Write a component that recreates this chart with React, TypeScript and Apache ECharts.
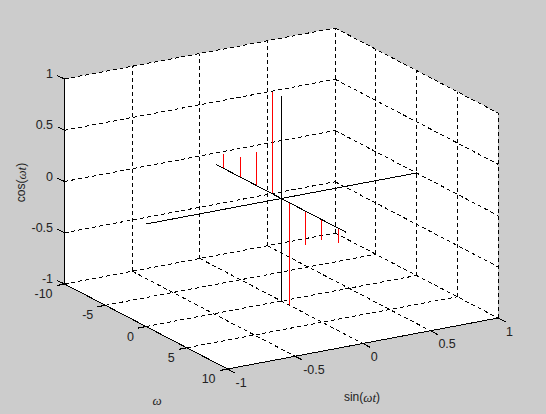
import React, { useEffect, useRef } from "react";
import * as echarts from "echarts";

// Tick values and labels
const omegaTicks = [-10, -5, 0, 5, 10];
const sinTicks = [-1, -0.5, 0, 0.5, 1];
const cosTicks = [-1, -0.5, 0, 0.5, 1];

// Data
const stemOmega = [-7, -5, -3, -1, 1, 3, 5, 7];
const stemCos = [0.14, 0.2, 0.33, 1, -1, -0.33, -0.2, -0.14];
const omegaLine = [-8, 8];
const sinLine = [-1, 1];
const cosLine = [-1, 1];

// Orthographic view of the 3D box: screen units per data unit, centred on (0,0,0)
const CX = 281.3;
const CY = 198.5;
const OX = 8.15;
const OY = 4.25;
const SX = 135.25;
const SY = -25.5;
const ZY = -102.5;
const proj = (w: number, s: number, z: number): number[] => [
  CX + w * OX + s * SX,
  CY + w * OY + s * SY + z * ZY,
];

type Seg = number[];
const W0 = omegaTicks[0];
const W1 = omegaTicks[omegaTicks.length - 1];
const S0 = sinTicks[0];
const S1 = sinTicks[sinTicks.length - 1];
const Z0 = cosTicks[0];
const Z1 = cosTicks[cosTicks.length - 1];

const gridSegs: Seg[] = [
  ...sinTicks.flatMap((s) => [
    [W0, s, Z0, W0, s, Z1],
    [W0, s, Z0, W1, s, Z0],
  ]),
  ...omegaTicks.flatMap((w) => [
    [w, S1, Z0, w, S1, Z1],
    [w, S0, Z0, w, S1, Z0],
  ]),
  ...cosTicks.flatMap((z) => [
    [W0, S0, z, W0, S1, z],
    [W0, S1, z, W1, S1, z],
  ]),
];
const axisSegs: Seg[] = [
  [W0, S0, Z0, W0, S0, Z1],
  [W0, S0, Z0, W1, S0, Z0],
  [W1, S0, Z0, W1, S1, Z0],
];
const blackSegs: Seg[] = [
  [omegaLine[0], 0, 0, omegaLine[1], 0, 0],
  [0, sinLine[0], 0, 0, sinLine[1], 0],
  [0, 0, cosLine[0], 0, 0, cosLine[1]],
];
const redSegs: Seg[] = stemOmega.map((w, i) => [w, 0, 0, w, 0, stemCos[i]]);

// vertical segments land on whole pixels, as in the aliased original
const segSeries = (name: string, segs: Seg[], style: any, bias: number) => ({
  type: "custom",
  name,
  silent: true,
  clip: false,
  coordinateSystem: "cartesian2d",
  data: segs,
  renderItem: (_: any, api: any) => {
    const a = api.coord(proj(api.value(0), api.value(1), api.value(2)));
    const b = api.coord(proj(api.value(3), api.value(4), api.value(5)));
    const vertical = Math.abs(a[0] - b[0]) < 0.01;
    const x1 = vertical ? Math.floor(a[0] - bias) + 0.5 : a[0];
    const x2 = vertical ? x1 : b[0];
    return {
      type: "line",
      shape: { x1, y1: a[1], x2, y2: b[1] },
      style: { fill: null, ...style },
    };
  },
});

const FONT = "'Liberation Sans', Arial, sans-serif";
// tick direction per axis, in screen units
const zTickDir = [-7.2, -3.4];
const wTickDir = [-8, 1.6];
const sTickDir = [7.4, 3.9];

const tickSeries = (name: string, ticks: number[], at: (v: number) => number[], dir: number[]) => ({
  type: "custom",
  name,
  silent: true,
  clip: false,
  coordinateSystem: "cartesian2d",
  data: ticks.map((t) => [t]),
  renderItem: (_: any, api: any) => {
    const p = at(api.value(0));
    const a = api.coord(p);
    const b = api.coord([p[0] + dir[0], p[1] + dir[1]]);
    return {
      type: "line",
      shape: { x1: a[0], y1: a[1], x2: b[0], y2: b[1] },
      style: { stroke: "#000", lineWidth: 1, fill: null },
    };
  },
});

const labelSeries = (
  name: string,
  ticks: number[],
  at: (v: number) => number[],
  dx: number,
  dy: number,
  align: string
) => ({
  type: "custom",
  name,
  silent: true,
  clip: false,
  coordinateSystem: "cartesian2d",
  data: ticks.map((t) => [t]),
  renderItem: (_: any, api: any) => {
    const v = api.value(0);
    const p = api.coord(at(v));
    return {
      type: "text",
      style: {
        text: String(v),
        x: p[0] + dx,
        y: p[1] + dy,
        align,
        verticalAlign: "middle",
        fontFamily: FONT,
        fontSize: 12.5,
        fill: "#222",
      },
    };
  },
});

const zAt = (z: number) => proj(W0, S0, z);
const wAt = (w: number) => proj(w, S0, Z0);
const sAt = (s: number) => proj(W1, s, Z0);

const wallCorners = [
  proj(W0, S0, Z1),
  proj(W0, S1, Z1),
  proj(W1, S1, Z1),
  proj(W1, S1, Z0),
  proj(W1, S0, Z0),
  proj(W0, S0, Z0),
];

const greek = { fontFamily: "'Liberation Serif', serif", fontStyle: "italic", fontSize: 13, fill: "#222" };

export default function App() {
  const ref = useRef<HTMLDivElement>(null);
  useEffect(() => {
    document.body.style.margin = "0";
    const chart = echarts.init(ref.current!, null, { renderer: "svg" });
    chart.setOption({
      animation: false,
      backgroundColor: "#cccccc",
      grid: { left: 0, right: 0, top: 0, bottom: 0 },
      xAxis: { type: "value", min: 0, max: 546, show: false },
      yAxis: { type: "value", min: 0, max: 414, inverse: true, show: false },
      graphic: [
        {
          type: "text",
          x: 362,
          y: 397,
          z: 10,
          style: {
            text: "sin({g|ωt})",
            align: "center",
            verticalAlign: "middle",
            fontFamily: FONT,
            fontSize: 12,
            fill: "#222",
            rich: { g: greek },
          },
        },
        {
          type: "text",
          x: 21,
          y: 182.5,
          rotation: Math.PI / 2,
          z: 10,
          style: {
            text: "cos({g|ωt})",
            align: "center",
            verticalAlign: "middle",
            fontFamily: FONT,
            fontSize: 12,
            fill: "#222",
            rich: { g: greek },
          },
        },
        {
          type: "text",
          x: 157,
          y: 400,
          z: 10,
          style: { text: "ω", align: "center", verticalAlign: "middle", ...greek },
        },
      ],
      series: [
        {
          type: "custom",
          name: "walls",
          silent: true,
          clip: false,
          coordinateSystem: "cartesian2d",
          data: [[0]],
          renderItem: (_: any, api: any) => ({
            type: "polygon",
            shape: { points: wallCorners.map((p) => api.coord(p)) },
            style: { fill: "#ffffff", stroke: null },
          }),
        },
        segSeries("grid", gridSegs, { stroke: "#000", lineWidth: 1, lineDash: [4, 3] }, 0),
        segSeries("axes", axisSegs, { stroke: "#000", lineWidth: 1 }, 0),
        tickSeries("zTicks", cosTicks, zAt, zTickDir),
        tickSeries("wTicks", omegaTicks, wAt, wTickDir),
        tickSeries("sTicks", sinTicks, sAt, sTickDir),
        segSeries("stems", redSegs, { stroke: "#ff0000", lineWidth: 1 }, 0.3),
        segSeries("lines", blackSegs, { stroke: "#000", lineWidth: 1 }, 0.3),
        labelSeries("zLabels", cosTicks, zAt, -11.5, -5, "right"),
        labelSeries("wLabels", omegaTicks, wAt, -12, 10, "right"),
        labelSeries("sLabels", sinTicks, sAt, 8, 13.7, "left"),
      ],
    });
    return () => chart.dispose();
  }, []);
  return (
    <>
      <style>{"svg path, svg line, svg polygon { shape-rendering: crispEdges; }"}</style>
      <div ref={ref} style={{ position: "absolute", left: 0, top: 0, width: 546, height: 414 }} />
    </>
  );
}
